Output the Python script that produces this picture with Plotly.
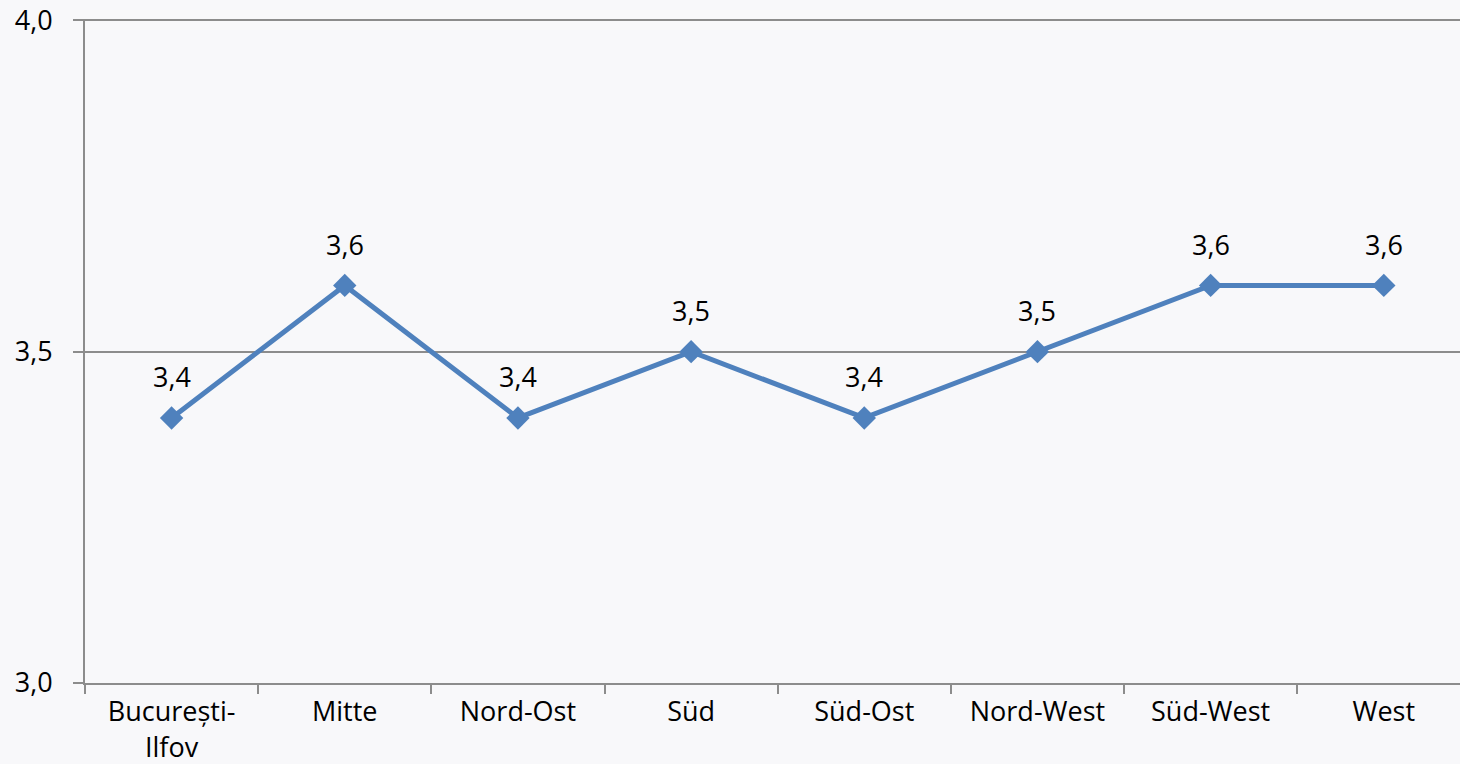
import plotly.graph_objects as go

categories = ["București-<br>Ilfov", "Mitte", "Nord-Ost", "Süd", "Süd-Ost", "Nord-West", "Süd-West", "West"]
values = [3.4, 3.6, 3.4, 3.5, 3.4, 3.5, 3.6, 3.6]
labels = ["3,4", "3,6", "3,4", "3,5", "3,4", "3,5", "3,6", "3,6"]
y_ticks = [3.0, 3.5, 4.0]

FONT = "Open Sans"
BG = "#F8F8FA"
AX = "#8C8C8C"
FS = 27

fig = go.Figure()
fig.add_trace(go.Scatter(
    x=categories, y=values, mode="lines+markers",
    line=dict(color="#4F81BD", width=5),
    marker=dict(symbol="diamond", size=18, color="#4F81BD"),
    hoverinfo="skip", showlegend=False, cliponaxis=False,
))
for c, v, t in zip(categories, values, labels):
    fig.add_annotation(x=c, y=v, text=t, showarrow=False, yshift=41,
                       font=dict(family=FONT, size=FS, color="#000000"))

fig.update_layout(
    width=1460, height=764,
    margin=dict(l=85, r=0, t=19, b=81),
    paper_bgcolor=BG, plot_bgcolor=BG,
    separators=", ",
    font=dict(family=FONT, size=FS, color="#000000"),
)
fig.update_xaxes(
    type="category", range=[-0.5, 7.44],
    tickson="boundaries", ticks="outside", ticklen=9, tickcolor=AX, tickwidth=2,
    showline=True, linecolor=AX, linewidth=2, showgrid=False,
    ticklabelstandoff=4,
    tickfont=dict(family=FONT, size=FS, color="#000000"),
)
fig.update_yaxes(
    range=[3.0, 4.002], tickvals=y_ticks, tickformat=".1f",
    ticks="outside", ticklen=10, tickcolor=AX, tickwidth=2,
    showline=True, linecolor=AX, linewidth=2,
    showgrid=True, gridcolor=AX, gridwidth=2, zeroline=False,
    ticklabelstandoff=15,
    tickfont=dict(family=FONT, size=FS, color="#000000"),
)

fig.write_html(
    "out.html",
    config={"displayModeBar": False},
    post_script="document.body.style.margin='0';document.body.style.background='%s';" % BG,
)
